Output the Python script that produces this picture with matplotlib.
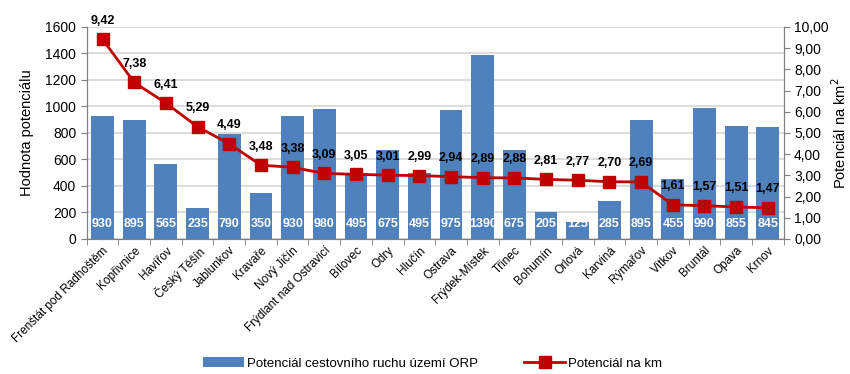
import matplotlib.pyplot as plt
import numpy as np

plt.rcParams['font.family'] = ['Liberation Sans', 'DejaVu Sans']

mesta = ['Frenštát pod Radhoštěm', 'Kopřivnice', 'Havířov', 'Český Těšín',
         'Jablunkov', 'Kravaře', 'Nový Jičín', 'Frýdlant nad Ostravicí',
         'Bílovec', 'Odry', 'Hlučín', 'Ostrava', 'Frýdek-Místek', 'Třinec',
         'Bohumín', 'Orlová', 'Karviná', 'Rýmařov', 'Vítkov', 'Bruntál',
         'Opava', 'Krnov']
potencial = [930, 895, 565, 235, 790, 350, 930, 980, 495, 675, 495, 975,
             1390, 675, 205, 125, 285, 895, 455, 990, 855, 845]
na_km = [9.42, 7.38, 6.41, 5.29, 4.49, 3.48, 3.38, 3.09, 3.05, 3.01, 2.99,
         2.94, 2.89, 2.88, 2.81, 2.77, 2.70, 2.69, 1.61, 1.57, 1.51, 1.47]

left_ticks = np.arange(0, 1601, 200)
right_ticks = np.arange(0, 10.01, 1)

BAR = '#4F81BD'
RED = '#C00000'


def cz(v, nd=2):
    return f'{v:.{nd}f}'.replace('.', ',')


fig = plt.figure(figsize=(8.5, 3.74), dpi=100)
ax = fig.add_axes([0.102, 0.361, 0.82, 0.567])
x = np.arange(len(mesta))

bars = ax.bar(x, potencial, width=0.72, color=BAR, zorder=2,
              label='Potenciál cestovního ruchu území ORP')
for xi, v in zip(x, potencial):
    ax.text(xi, 110, str(v), color='white', fontsize=9, fontweight='bold',
            ha='center', va='center', zorder=3)

ax.set_xlim(-0.5, len(mesta) - 0.5)
ax.set_ylim(0, 1600)
ax.set_yticks(left_ticks)
ax.yaxis.grid(True, color='#D9D9D9', linewidth=1.3, zorder=0)
ax.set_axisbelow(True)
ax.set_ylabel('Hodnota potenciálu', fontsize=10.5, labelpad=8)
ax.tick_params(axis='y', labelsize=10, direction='out', length=4,
               color='#808080')

ax.set_xticks(x)
ax.set_xticklabels(mesta, rotation=45, ha='right', va='top',
                   rotation_mode='anchor', fontsize=8.5)
ax.tick_params(axis='x', length=0, pad=4)
ax.set_xticks(np.arange(-0.5, len(mesta), 1), minor=True)
ax.tick_params(axis='x', which='minor', length=4, direction='out',
               color='#808080')

ax.spines['top'].set_visible(False)
for s in ['left', 'bottom', 'right']:
    ax.spines[s].set_color('#808080')

ax2 = ax.twinx()
ln, = ax2.plot(x, na_km, color=RED, linewidth=2, marker='s',
               markersize=8, zorder=4, label='Potenciál na km')
for xi, v in zip(x, na_km):
    ax2.annotate(cz(v), (xi, v), xytext=(0, 9), textcoords='offset points',
                 ha='center', va='bottom', fontsize=9, fontweight='bold')
ax2.set_ylim(0, 10)
ax2.set_yticks(right_ticks)
ax2.set_yticklabels([cz(t) for t in right_ticks])
ax2.tick_params(axis='y', labelsize=10, direction='out', length=4,
                color='#808080')
ax2.set_ylabel('Potenciál na km$^2$', fontsize=10.5, labelpad=1)
ax2.spines['top'].set_visible(False)
for s in ['left', 'bottom', 'right']:
    ax2.spines[s].set_color('#808080')

fig.legend([bars, ln], ['Potenciál cestovního ruchu území ORP', 'Potenciál na km'],
           loc='lower center', bbox_to_anchor=(0.509, -0.02), ncol=2,
           frameon=False, fontsize=9.5, handlelength=3.1, handletextpad=0.25,
           columnspacing=3.5)

fig.savefig('out.png', dpi=100)
